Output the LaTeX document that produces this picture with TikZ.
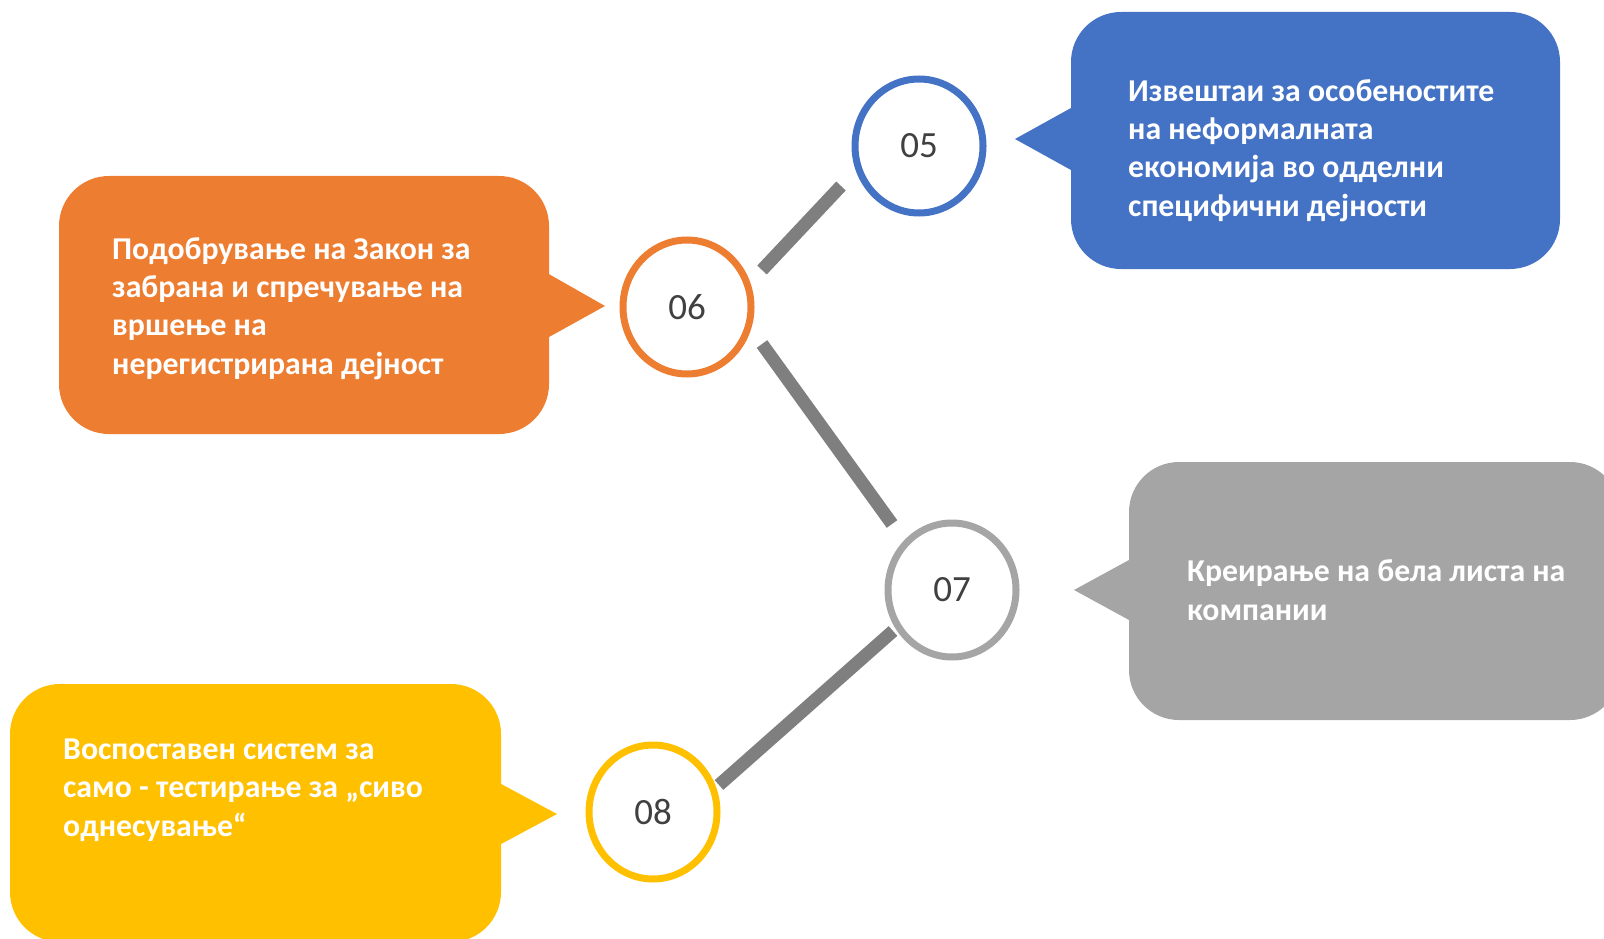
\documentclass[tikz,border=0pt]{standalone}
\usepackage{fontspec}
\setmainfont{Carlito}
\usetikzlibrary{shapes.geometric}
\definecolor{cblue}{HTML}{4472C4}
\definecolor{corange}{HTML}{ED7D31}
\definecolor{cgray}{HTML}{A5A5A5}
\definecolor{cyellow}{HTML}{FFC000}
\definecolor{cconn}{HTML}{7F7F7F}
\definecolor{cnum}{HTML}{404040}
\tikzset{
  ring/.style={ellipse, minimum width=128pt, minimum height=134pt, inner sep=0pt,
    line width=7pt, fill=white, text=cnum, font=\fontsize{37}{40}\selectfont},
  txt/.style={anchor=base west, inner sep=0pt, align=left, text=white,
    font=\fontsize{31.8}{38.3}\selectfont\bfseries},
  conn/.style={draw=cconn, line width=13pt},
  bubble/.style={rounded corners=50pt}
}
\begin{document}
\begin{tikzpicture}[x=1pt,y=-1pt]
\useasboundingbox (0,0) rectangle (1604,939);
% callout shapes
\fill[cblue, bubble] (1071,12) rectangle (1560,269);
\fill[cblue] (1015,139) -- (1080,103) -- (1080,175) -- cycle;
\fill[corange, bubble] (59,176) rectangle (549,434);
\fill[corange] (605,306) -- (540,269) -- (540,342) -- cycle;
\fill[cgray, bubble] (1129,462) rectangle (1620,720);
\fill[cgray] (1074,590) -- (1140,554) -- (1140,626) -- cycle;
\fill[cyellow, bubble] (10,684) rectangle (501,942);
\fill[cyellow] (557,814) -- (490,778) -- (490,850) -- cycle;
% texts (anchor = baseline of the last line)
\node[txt] (t5) at (1128,216) {Извештаи за особеностите\\на неформалната\\економија во одделни\\специфични дејности};
\node[txt] (t6) at (112,374) {Подобрување на Закон за\\забрана и спречување на\\вршење на\\нерегистрирана дејност};
\node[txt] (t7) at (1187,620) {Креирање на бела листа на\\компании};
\node[txt] (t8) at (63,836) {Воспоставен систем за\\само - тестирање за „сиво\\однесување“};
% circles
\node[ring, draw=cblue] (c5) at (919,146) {05};
\node[ring, draw=corange] (c6) at (687,307) {06};
\node[ring, draw=cgray] (c7) at (952,590) {07};
\node[ring, draw=cyellow] (c8) at (653,812) {08};
% connector ends
\coordinate (a1) at (762,270);
\coordinate (a2) at (841,186);
\coordinate (b1) at (762,344);
\coordinate (b2) at (892,524);
\coordinate (d1) at (893,631);
\coordinate (d2) at (719,785);
\draw[conn] (a1) -- (a2);
\draw[conn] (b1) -- (b2);
\draw[conn] (d1) -- (d2);
\end{tikzpicture}
\end{document}
